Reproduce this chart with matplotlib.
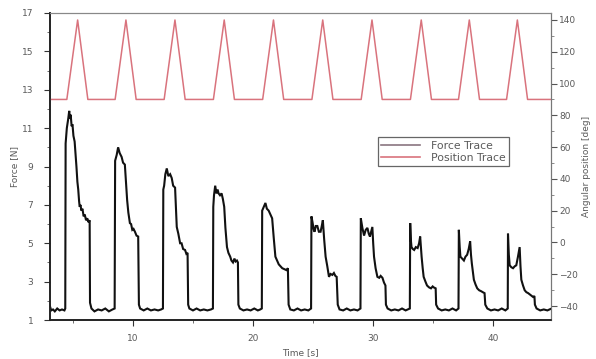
#!/usr/bin/env python
"""Force and position traces over time (twin y axes)."""

import matplotlib
matplotlib.use("Agg")
import matplotlib.pyplot as plt
from matplotlib.lines import Line2D
from matplotlib.ticker import MultipleLocator

# force trace: time [s] and force [N]
force_time = [
    3.08, 3.2, 3.35, 3.5, 3.7, 3.9, 4.1, 4.3, 4.37,
    4.40, 4.50, 4.62, 4.70, 4.76, 4.82, 4.90, 4.97, 5.05, 5.15, 5.22, 5.30, 5.38, 5.45,
    5.52, 5.57, 5.64, 5.71, 5.80, 5.90, 5.99, 6.10, 6.20, 6.30, 6.40, 6.43,
    6.55, 6.8, 7.1, 7.4, 7.7, 8.0, 8.3, 8.48,
    8.52, 8.65, 8.77, 8.90, 9.06, 9.18, 9.33, 9.42, 9.52, 9.62, 9.75, 9.85, 9.95, 10.05,
    10.17, 10.30, 10.44, 10.50,
    10.6, 10.9, 11.2, 11.5, 11.8, 12.1, 12.35, 12.5,
    12.53, 12.60, 12.70, 12.82, 12.95, 13.10, 13.23, 13.35, 13.51, 13.58, 13.65, 13.78,
    13.93, 14.05, 14.18, 14.34, 14.45, 14.55, 14.60,
    14.7, 15.0, 15.3, 15.6, 15.9, 16.2, 16.5, 16.66,
    16.69, 16.75, 16.85, 16.95, 17.05, 17.13, 17.25, 17.38, 17.49, 17.60, 17.70, 17.83,
    17.95, 18.10, 18.20, 18.33, 18.45, 18.55, 18.66, 18.74, 18.78,
    18.9, 19.2, 19.5, 19.8, 20.1, 20.4, 20.6, 20.73,
    20.76, 20.90, 21.03, 21.15, 21.30, 21.45, 21.59, 21.72, 21.86, 22.0, 22.14, 22.28,
    22.43, 22.60, 22.78, 22.90, 22.96,
    23.1, 23.4, 23.7, 24.0, 24.3, 24.6, 24.83,
    24.86, 24.95, 25.05, 25.12, 25.22, 25.35, 25.48, 25.62, 25.72, 25.81, 25.92, 26.04,
    26.18, 26.32, 26.45, 26.60, 26.73, 26.85, 26.96, 27.05,
    27.2, 27.5, 27.8, 28.1, 28.4, 28.7, 28.94,
    28.97, 29.10, 29.24, 29.38, 29.52, 29.63, 29.73, 29.83, 29.93, 30.00, 30.07, 30.20,
    30.35, 30.50, 30.62, 30.77, 30.90, 31.02, 31.06,
    31.2, 31.5, 31.8, 32.1, 32.4, 32.7, 33.05,
    33.08, 33.13, 33.19, 33.30, 33.41, 33.55, 33.70, 33.82, 33.91, 33.97, 34.03, 34.12,
    34.20, 34.35, 34.48, 34.65, 34.81, 34.95, 35.04, 35.20, 35.24,
    35.4, 35.7, 36.0, 36.3, 36.6, 36.9, 37.1,
    37.13, 37.20, 37.26, 37.40, 37.55, 37.68, 37.82, 37.95, 38.07, 38.14, 38.21, 38.30,
    38.38, 38.52, 38.66, 38.82, 38.99, 39.12, 39.27, 39.33,
    39.5, 39.8, 40.1, 40.4, 40.7, 41.0, 41.2,
    41.22, 41.29, 41.36, 41.50, 41.64, 41.78, 41.91, 42.05, 42.19, 42.26, 42.33, 42.47,
    42.61, 42.75, 42.90, 43.1, 43.31, 43.42, 43.46,
    43.6, 43.9, 44.2, 44.5, 44.85,
]
force_value = [
    1.75, 1.5, 1.55, 1.45, 1.6, 1.5, 1.55, 1.5, 1.6,
    10.2, 11.0, 11.5, 11.9, 11.5, 11.7, 11.1, 11.2, 10.6, 10.3, 9.7, 9.0, 8.2, 7.8,
    7.2, 6.9, 7.0, 6.7, 6.8, 6.4, 6.5, 6.2, 6.3, 6.1, 6.2, 1.9,
    1.6, 1.45, 1.55, 1.5, 1.6, 1.45, 1.55, 1.6,
    9.3, 9.6, 10.0, 9.7, 9.5, 9.2, 9.1, 8.2, 7.25, 6.6, 6.05, 6.0, 5.7, 5.75,
    5.6, 5.4, 5.35, 1.8,
    1.6, 1.5, 1.6, 1.5, 1.55, 1.5, 1.55, 1.6,
    7.8, 8.0, 8.6, 8.9, 8.5, 8.6, 8.4, 8.0, 7.9, 6.9, 5.85, 5.5,
    5.0, 5.0, 4.7, 4.65, 4.45, 4.5, 1.8,
    1.6, 1.5, 1.6, 1.5, 1.55, 1.5, 1.55, 1.6,
    6.9, 7.5, 8.0, 7.6, 7.8, 7.6, 7.5, 7.6, 7.3, 6.9, 5.8, 4.8,
    4.5, 4.3, 4.1, 4.0, 4.2, 4.05, 4.1, 4.0, 1.8,
    1.6, 1.5, 1.55, 1.5, 1.6, 1.5, 1.55, 1.6,
    6.7, 6.9, 7.1, 6.8, 6.7, 6.5, 6.3, 5.3, 4.3, 4.1, 3.9, 3.8,
    3.7, 3.65, 3.6, 3.7, 1.8,
    1.55, 1.5, 1.6, 1.5, 1.55, 1.5, 1.6,
    6.4, 6.1, 5.7, 5.6, 5.9, 5.9, 5.6, 5.6, 5.9, 6.2, 5.2, 4.3,
    3.8, 3.25, 3.4, 3.35, 3.45, 3.3, 3.25, 1.8,
    1.55, 1.5, 1.6, 1.5, 1.55, 1.5, 1.6,
    6.3, 5.8, 5.4, 5.7, 5.8, 5.5, 5.35, 5.6, 5.85, 5.0, 4.3, 3.7,
    3.25, 3.2, 3.3, 3.2, 2.95, 2.8, 1.8,
    1.6, 1.5, 1.55, 1.5, 1.6, 1.5, 1.6,
    6.05, 5.2, 4.8, 4.7, 4.65, 4.8, 4.75, 5.0, 5.35, 4.8, 4.3, 3.7,
    3.25, 3.0, 2.8, 2.7, 2.65, 2.75, 2.7, 2.65, 1.8,
    1.6, 1.5, 1.55, 1.5, 1.6, 1.5, 1.6,
    5.7, 4.8, 4.3, 4.2, 4.1, 4.3, 4.4, 4.7, 5.1, 4.4, 3.95, 3.5,
    3.1, 2.85, 2.65, 2.55, 2.5, 2.45, 2.4, 1.8,
    1.6, 1.5, 1.55, 1.5, 1.6, 1.5, 1.6,
    5.5, 4.4, 3.85, 3.75, 3.7, 3.8, 3.85, 4.3, 4.8, 3.8, 3.1, 2.8,
    2.55, 2.45, 2.4, 2.3, 2.2, 2.25, 1.8,
    1.6, 1.5, 1.55, 1.5, 1.6,
]

# position trace: time [s] and angle [deg]
position_time = [
    3.08, 4.50, 5.40, 6.25, 8.52, 9.42, 10.27, 12.60, 13.50, 14.35,
    16.70, 17.60, 18.45, 20.80, 21.70, 22.55, 24.90, 25.80, 26.65,
    29.00, 29.90, 30.75, 33.10, 34.00, 34.85, 37.10, 38.00, 38.85,
    41.10, 42.00, 42.85, 44.85,
]
position_value = [
    90, 90, 140, 90, 90, 140, 90, 90, 140, 90,
    90, 140, 90, 90, 140, 90, 90, 140, 90,
    90, 140, 90, 90, 140, 90, 90, 140, 90,
    90, 140, 90, 90,
]

force_ticks = [1, 3, 5, 7, 9, 11, 13, 15, 17]
angle_ticks = [-40, -20, 0, 20, 40, 60, 80, 100, 120, 140]
time_ticks = [10, 20, 30, 40]

TEXT = "#5a5a5a"
FORCE_COLOR = "#111111"
POSITION_COLOR = "#d9737d"


def main() -> None:
    plt.rcParams["font.family"] = "DejaVu Sans"
    fig = plt.figure(figsize=(5.96, 3.59), dpi=100)
    ax = fig.add_axes([0.0839, 0.1086, 0.8406, 0.8552])
    ax2 = ax.twinx()

    ax.plot(force_time, force_value, color=FORCE_COLOR, lw=1.5, solid_joinstyle="miter")
    ax2.plot(position_time, position_value, color=POSITION_COLOR, lw=1.1)

    ax.set_xlim(3.1, 44.8)
    ax.set_ylim(1, 17)
    ax2.set_ylim(-48.8, 144.4)

    ax.set_xticks(time_ticks)
    ax.xaxis.set_minor_locator(MultipleLocator(5))
    ax.set_yticks(force_ticks)
    ax.yaxis.set_minor_locator(MultipleLocator(1))
    ax2.set_yticks(angle_ticks)
    ax2.yaxis.set_minor_locator(MultipleLocator(10))

    ax.tick_params(axis="x", which="major", direction="out", length=4, width=0.8,
                   colors="#333333", labelcolor=TEXT, labelsize=6.5, pad=6)
    ax.tick_params(axis="x", which="minor", direction="out", length=2, width=0.6, colors="#555555")
    ax.tick_params(axis="y", which="major", direction="out", length=4, width=0.8,
                   colors="#333333", labelcolor=TEXT, labelsize=6.5, pad=8)
    ax.tick_params(axis="y", which="minor", direction="out", length=2, width=0.6, colors="#555555")
    ax2.tick_params(axis="y", which="major", direction="out", length=4, width=0.8,
                    colors="#555555", labelcolor=TEXT, labelsize=6.5, pad=2)
    ax2.tick_params(axis="y", which="minor", direction="out", length=2, width=0.6, colors="#777777")

    for a in (ax, ax2):
        a.spines["left"].set_color("#222222")
        a.spines["bottom"].set_color("#222222")
        a.spines["top"].set_color("#888888")
        a.spines["right"].set_color("#777777")
        a.spines["left"].set_linewidth(1.2)
        a.spines["bottom"].set_linewidth(1.2)

    ax.set_xlabel("Time [s]", fontsize=6.5, color=TEXT, labelpad=4)
    ax.set_ylabel("Force [N]", fontsize=6.5, color=TEXT, labelpad=2)
    ax2.set_ylabel("Angular position [deg]", fontsize=6.5, color=TEXT, labelpad=3)

    handles = [
        Line2D([], [], color="#8a7680", lw=1.2),
        Line2D([], [], color=POSITION_COLOR, lw=1.2),
    ]
    leg = ax2.legend(handles, ["Force Trace", "Position Trace"], loc="upper left",
                     bbox_to_anchor=(0.655, 0.595), fontsize=7.8, fancybox=False,
                     framealpha=1, edgecolor="#666666", handlelength=3.6,
                     borderpad=0.3, labelspacing=0.2, handletextpad=1.0,
                     borderaxespad=0)
    leg.get_frame().set_linewidth(0.9)
    for t in leg.get_texts():
        t.set_color(TEXT)

    fig.savefig("out.png", dpi=100)
    plt.close(fig)


if __name__ == "__main__":
    main()
